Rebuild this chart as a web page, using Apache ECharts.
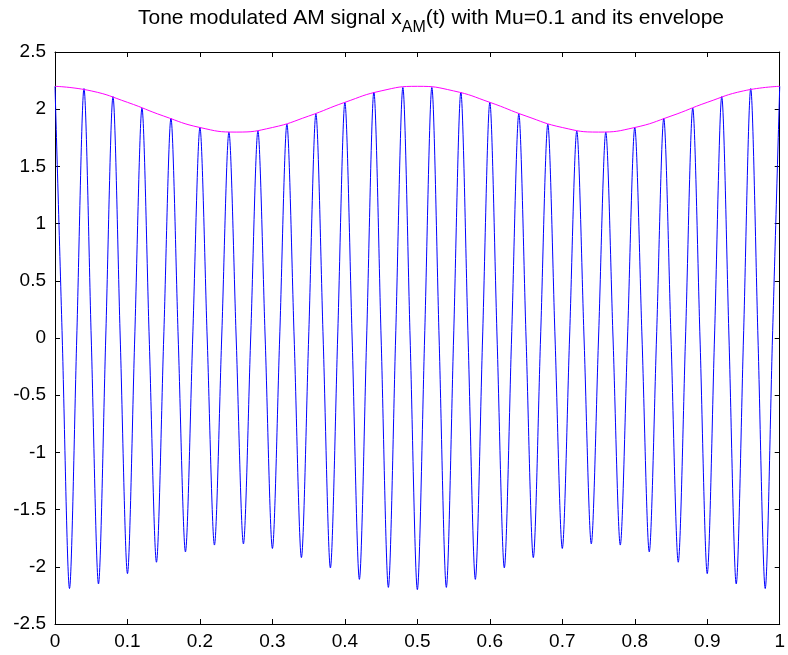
<!DOCTYPE html>
<html>
<head>
<meta charset="utf-8">
<script src="https://cdn.jsdelivr.net/npm/echarts@6/dist/echarts.min.js"></script>
<style>
html,body{margin:0;padding:0;background:#fff;}
#chart{width:788px;height:655px;}
</style>
</head>
<body>
<div id="chart"></div>
<script>
// ---- Data ----
// Sample instants (s): carrier peaks/troughs at even hundredths, zero crossings at odd hundredths
const sampleTimes = [
  0.00,0.01,0.02,0.03,0.04,0.05,0.06,0.07,0.08,0.09,
  0.10,0.11,0.12,0.13,0.14,0.15,0.16,0.17,0.18,0.19,
  0.20,0.21,0.22,0.23,0.24,0.25,0.26,0.27,0.28,0.29,
  0.30,0.31,0.32,0.33,0.34,0.35,0.36,0.37,0.38,0.39,
  0.40,0.41,0.42,0.43,0.44,0.45,0.46,0.47,0.48,0.49,
  0.50,0.51,0.52,0.53,0.54,0.55,0.56,0.57,0.58,0.59,
  0.60,0.61,0.62,0.63,0.64,0.65,0.66,0.67,0.68,0.69,
  0.70,0.71,0.72,0.73,0.74,0.75,0.76,0.77,0.78,0.79,
  0.80,0.81,0.82,0.83,0.84,0.85,0.86,0.87,0.88,0.89,
  0.90,0.91,0.92,0.93,0.94,0.95,0.96,0.97,0.98,0.99,
  1.00
];
// AM signal x_AM(t) values at those instants
const signalValues = [
   2.20,0, -2.19,0,  2.18,0, -2.15,0,  2.11,0,
  -2.06,0,  2.01,0, -1.96,0,  1.92,0, -1.87,0,
   1.84,0, -1.81,0,  1.80,0, -1.80,0,  1.81,0,
  -1.84,0,  1.87,0, -1.92,0,  1.96,0, -2.01,0,
   2.06,0, -2.11,0,  2.15,0, -2.18,0,  2.19,0,
  -2.20,0,  2.19,0, -2.18,0,  2.15,0, -2.11,0,
   2.06,0, -2.01,0,  1.96,0, -1.92,0,  1.87,0,
  -1.84,0,  1.81,0, -1.80,0,  1.80,0, -1.81,0,
   1.84,0, -1.87,0,  1.92,0, -1.96,0,  2.01,0,
  -2.06,0,  2.11,0, -2.15,0,  2.18,0, -2.19,0,
   2.20
];
// Envelope
const envelopeTimes = [0.00,0.05,0.10,0.15,0.20,0.25,0.30,0.35,0.40,0.45,0.50,0.55,0.60,0.65,0.70,0.75,0.80,0.85,0.90,0.95,1.00];
const envelopeValues = [2.20,2.16,2.06,1.94,1.84,1.80,1.84,1.94,2.06,2.16,2.20,2.16,2.06,1.94,1.84,1.80,1.84,1.94,2.06,2.16,2.20];
// Axis ticks
const xTicks = [0,0.1,0.2,0.3,0.4,0.5,0.6,0.7,0.8,0.9,1];
const yTicks = [-2.5,-2,-1.5,-1,-0.5,0,0.5,1,1.5,2,2.5];

const FONT = '"Liberation Sans", Arial, Helvetica, sans-serif';
const chart = echarts.init(document.getElementById('chart'), null, {renderer: 'canvas'});

const axisCommon = {
  type: 'value',
  axisLine: {show: true, onZero: false, lineStyle: {color: '#000', width: 1}},
  axisTick: {show: true, inside: true, length: 5, lineStyle: {color: '#000', width: 1}},
  splitLine: {show: false}
};
const xMin = xTicks[0], xMax = xTicks[xTicks.length - 1], xInt = xTicks[1] - xTicks[0];
const yMin = yTicks[0], yMax = yTicks[yTicks.length - 1], yInt = yTicks[1] - yTicks[0];

const option = {
  animation: false,
  backgroundColor: '#fff',
  grid: {left: 55, right: 6, top: 52, bottom: 31, containLabel: false},
  graphic: [{
    type: 'text',
    x: 431,
    y: 8,
    style: {
      text: '{a|Tone modulated AM signal x}{s|AM}{a|(t) with Mu=0.1 and its envelope}',
      align: 'center',
      verticalAlign: 'top',
      fill: '#000',
      rich: {
        a: {fontSize: 21, fontFamily: FONT, verticalAlign: 'top', fill: '#000'},
        s: {fontSize: 16, fontFamily: FONT, verticalAlign: 'top', padding: [12, 0, 0, 0], fill: '#000'}
      }
    }
  }],
  xAxis: [
    Object.assign({}, axisCommon, {
      position: 'bottom', min: xMin, max: xMax, interval: xInt,
      axisLabel: {show: true, color: '#000', fontSize: 19, fontFamily: FONT, margin: 8,
        formatter: v => String(Math.round(v * 10) / 10)}
    }),
    Object.assign({}, axisCommon, {
      position: 'top', min: xMin, max: xMax, interval: xInt,
      axisLabel: {show: false}
    })
  ],
  yAxis: [
    Object.assign({}, axisCommon, {
      position: 'left', min: yMin, max: yMax, interval: yInt,
      axisLabel: {show: true, color: '#000', fontSize: 19, fontFamily: FONT, margin: 9,
        formatter: v => String(Math.round(v * 10) / 10)}
    }),
    Object.assign({}, axisCommon, {
      position: 'right', min: yMin, max: yMax, interval: yInt,
      axisLabel: {show: false}
    })
  ],
  series: [
    {
      name: 'x_AM(t)',
      type: 'line',
      xAxisIndex: 0, yAxisIndex: 0,
      data: sampleTimes.map((t, i) => [t, signalValues[i]]),
      showSymbol: false,
      smooth: 0.3,
      lineStyle: {color: 'rgb(0,0,255)', width: 1},
      silent: true
    },
    {
      name: 'envelope',
      type: 'line',
      xAxisIndex: 0, yAxisIndex: 0,
      data: envelopeTimes.map((t, i) => [t, envelopeValues[i]]),
      showSymbol: false,
      smooth: true,
      lineStyle: {color: 'rgb(255,0,255)', width: 1},
      silent: true
    }
  ]
};
chart.setOption(option);
</script>
</body>
</html>
